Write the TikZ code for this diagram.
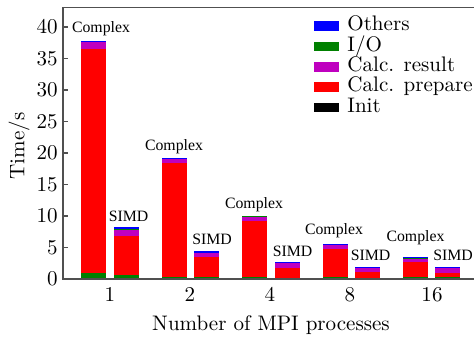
\documentclass[tikz,border=0pt]{standalone}
\usepackage{fontspec}
\newfontfamily\barfont{Liberation Serif}
\definecolor{cblue}{RGB}{0,0,255}
\definecolor{cgreen}{RGB}{0,128,0}
\definecolor{cmag}{RGB}{191,0,191}
\definecolor{cred}{RGB}{255,0,0}
\definecolor{caxis}{RGB}{80,80,80}
\newcommand{\bseg}[4]{\fill[#4] (#1,#2) rectangle ++(25,{#3-#2});}
\begin{document}
\begin{tikzpicture}[x=0.475pt,y=0.475pt,
  axisline/.style={draw=caxis, line width=0.6pt},
  ticklab/.style={inner sep=0pt, font=\fontsize{10}{12}\selectfont},
  barlab/.style={inner sep=0pt, anchor=base, font=\barfont\fontsize{7.5}{9}\selectfont},
  legkey/.style={inner sep=0pt, minimum width=11.875pt, minimum height=4.6pt},
  legtext/.style={inner sep=0pt, anchor=base west, font=\fontsize{10}{12}\selectfont}]
\useasboundingbox (0,0) rectangle (474,338);
% bars (data units in y)
\begin{scope}[shift={(0,59)}, y=2.9925pt]
\bseg{81}{0}{0.9}{cgreen}\bseg{81}{0.9}{36.5}{cred}\bseg{81}{36.5}{37.57}{cmag}\bseg{81}{37.57}{37.8}{cblue}
\bseg{114}{0}{0.65}{cgreen}\bseg{114}{0.65}{6.87}{cred}\bseg{114}{6.87}{7.9}{cmag}\bseg{114}{7.9}{8.0}{cgreen}\bseg{114}{8.0}{8.25}{cblue}
\bseg{162}{0}{0.3}{cgreen}\bseg{162}{0.3}{18.37}{cred}\bseg{162}{18.37}{19.05}{cmag}\bseg{162}{19.05}{19.25}{cblue}
\bseg{194}{0}{0.25}{cgreen}\bseg{194}{0.25}{3.5}{cred}\bseg{194}{3.5}{4.2}{cmag}\bseg{194}{4.2}{4.45}{cblue}
\bseg{242}{0}{0.3}{cgreen}\bseg{242}{0.3}{9.2}{cred}\bseg{242}{9.2}{9.8}{cmag}\bseg{242}{9.8}{10.05}{cgreen}
\bseg{275}{0}{0.1}{cgreen}\bseg{275}{0.1}{1.8}{cred}\bseg{275}{1.8}{2.5}{cmag}\bseg{275}{2.5}{2.7}{cblue}
\bseg{323}{0}{0.25}{cgreen}\bseg{323}{0.25}{4.7}{cred}\bseg{323}{4.7}{5.33}{cmag}\bseg{323}{5.33}{5.55}{cblue}
\bseg{355}{0}{0.1}{cgreen}\bseg{355}{0.1}{1.17}{cred}\bseg{355}{1.17}{1.75}{cmag}\bseg{355}{1.75}{1.9}{cblue}
\bseg{403}{0}{0.3}{cgreen}\bseg{403}{0.3}{2.75}{cred}\bseg{403}{2.75}{3.2}{cmag}\bseg{403}{3.2}{3.4}{cgreen}\bseg{403}{3.4}{3.5}{cblue}
\bseg{435}{0}{0.3}{cgreen}\bseg{435}{0.3}{1.0}{cred}\bseg{435}{1.0}{1.7}{cmag}\bseg{435}{1.7}{1.95}{cblue}
% y ticks
\foreach \v in {0,5,...,40}{
  \draw[axisline] (63,\v) -- ++(5,0);
  \node[ticklab, anchor=east] (yl\v) at (58,\v) {\v};
}
\end{scope}
% axes
\coordinate (tr) at (474,330.5);
\coordinate (tl) at (63,330.5);
\coordinate (bl) at (63,59);
\coordinate (br) at (474,59);
\draw[axisline] (tr) -- (tl) -- (bl) -- (br);
% x tick labels
\node[ticklab, anchor=base] (xl1) at (110,36) {1};
\node[ticklab, anchor=base] (xl2) at (190,36) {2};
\node[ticklab, anchor=base] (xl4) at (270,36) {4};
\node[ticklab, anchor=base] (xl8) at (350,36) {8};
\node[ticklab, anchor=base] (xl16) at (432,36) {16};
% axis titles
\node[ticklab, anchor=base] (xtitle) at (271,7) {Number of MPI processes};
\node[ticklab, anchor=base, rotate=90] (ytitle) at (24.5,192) {Time/s};
% bar labels
\node[barlab] (c1) at (101,305.5) {Complex};
\node[barlab] (s1) at (128.5,116) {SIMD};
\node[barlab] (c2) at (174,187.5) {Complex};
\node[barlab] (s2) at (212,93) {SIMD};
\node[barlab] (c4) at (254,129.5) {Complex};
\node[barlab] (s4) at (292.5,81) {SIMD};
\node[barlab] (c8) at (334,103.5) {Complex};
\node[barlab] (s8) at (370.5,77) {SIMD};
\node[barlab] (c16) at (415.5,96.5) {Complex};
\node[barlab] (s16) at (453,77) {SIMD};
% legend
\node[legkey, fill=cblue] (k1) at (326.5,312) {};
\node[legkey, fill=cgreen] (k2) at (326.5,291.5) {};
\node[legkey, fill=cmag] (k3) at (326.5,271) {};
\node[legkey, fill=cred] (k4) at (326.5,251) {};
\node[legkey, fill=black] (k5) at (326.5,230.5) {};
\node[legtext] (t1) at (347,307) {Others};
\node[legtext] (t2) at (347,286.5) {I/O};
\node[legtext] (t3) at (347,266) {Calc. result};
\node[legtext] (t4) at (347,246) {Calc. prepare};
\node[legtext] (t5) at (347,225.5) {Init};
\end{tikzpicture}
\end{document}
